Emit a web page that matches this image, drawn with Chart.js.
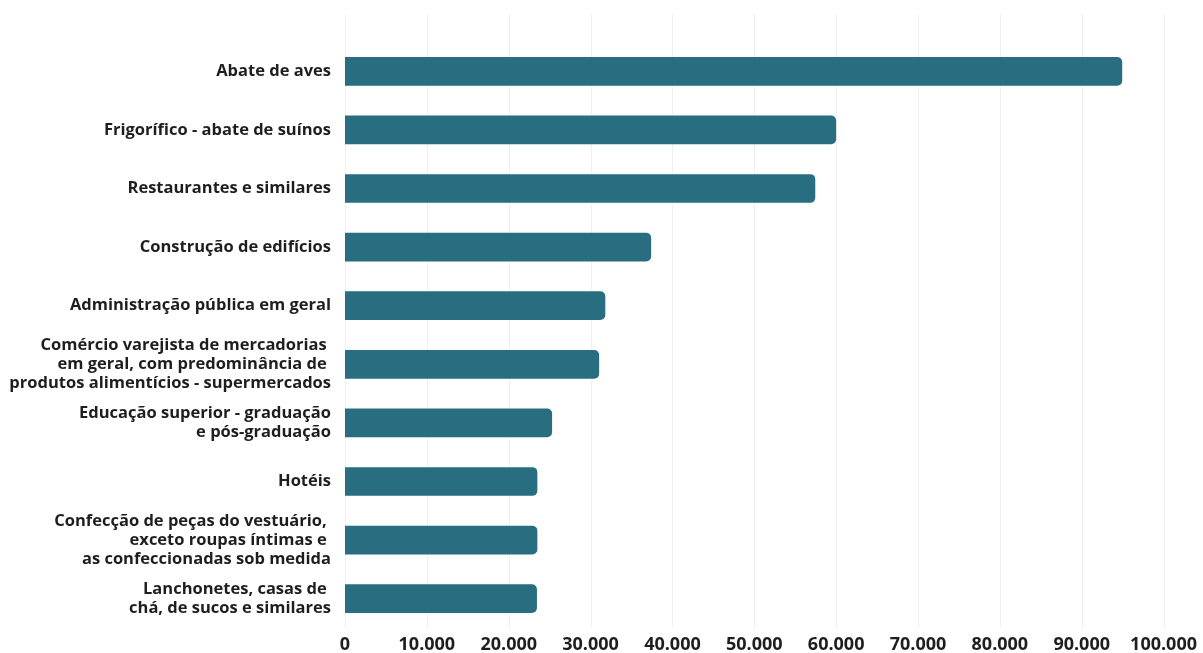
<!DOCTYPE html>
<html>
<head>
<meta charset="utf-8">
<script src="https://cdn.jsdelivr.net/npm/chart.js@4/dist/chart.umd.min.js"></script>
<style>
  html, body { margin: 0; padding: 0; background: #ffffff; }
  #wrap { width: 1203px; height: 653px; position: relative; }
</style>
</head>
<body>
<div id="wrap"><canvas id="c"></canvas></div>
<script>
const categories = [
  ["Abate de aves"],
  ["Frigorífico - abate de suínos"],
  ["Restaurantes e similares"],
  ["Construção de edifícios"],
  ["Administração pública em geral"],
  ["Comércio varejista de mercadorias ", "em geral, com predominância de ", "produtos alimentícios - supermercados"],
  ["Educação superior - graduação", "e pós-graduação"],
  ["Hotéis"],
  ["Confecção de peças do vestuário, ", "exceto roupas íntimas e ", "as confeccionadas sob medida"],
  ["Lanchonetes, casas de ", "chá, de sucos e similares"]
];
const values = [94950, 60000, 57450, 37400, 31800, 31050, 25300, 23500, 23500, 23450];
const xMin = 0;
const xMax = 100000;
const xStep = 10000;

function fmt(v) {
  return String(Math.round(v)).replace(/\B(?=(\d{3})+(?!\d))/g, ".");
}

const gridPlugin = {
  id: 'extGrid',
  beforeDatasetsDraw(chart) {
    const x = chart.scales.x;
    const ctx = chart.ctx;
    ctx.save();
    ctx.strokeStyle = '#f1f1f1';
    ctx.lineWidth = 1;
    x.ticks.forEach(t => {
      const px = Math.round(x.getPixelForValue(t.value)) + 0.5;
      ctx.beginPath();
      ctx.moveTo(px, 14);
      ctx.lineTo(px, chart.chartArea.bottom);
      ctx.stroke();
    });
    ctx.restore();
  }
};

new Chart(document.getElementById('c'), {
  type: 'bar',
  data: {
    labels: categories,
    datasets: [{
      data: values,
      backgroundColor: '#286e80',
      borderRadius: 5,
      barPercentage: 0.49,
      categoryPercentage: 1.0
    }]
  },
  options: {
    indexAxis: 'y',
    responsive: true,
    maintainAspectRatio: false,
    animation: false,
    layout: { padding: { top: 42, right: 6, left: 0, bottom: 0 } },
    plugins: { legend: { display: false }, tooltip: { enabled: false } },
    scales: {
      x: {
        min: xMin,
        max: xMax,
        border: { display: false },
        grid: { display: false, drawTicks: false },
        ticks: {
          stepSize: xStep,
          padding: 6,
          autoSkip: false,
          maxRotation: 0,
          color: '#1e1e1e',
          font: { family: '"Open Sans"', size: 18, weight: 'bold' },
          callback: v => fmt(v)
        },
        afterFit(s) { s.height = 25; }
      },
      y: {
        border: { display: false },
        grid: { display: false, drawTicks: false },
        ticks: {
          padding: 14,
          autoSkip: false,
          color: '#1e1e1e',
          font: { family: '"Open Sans"', size: 16.5, weight: 'bold', lineHeight: 1.15 }
        },
        afterFit(s) { s.width = 345; }
      }
    }
  },
  plugins: [gridPlugin]
});
</script>
</body>
</html>
